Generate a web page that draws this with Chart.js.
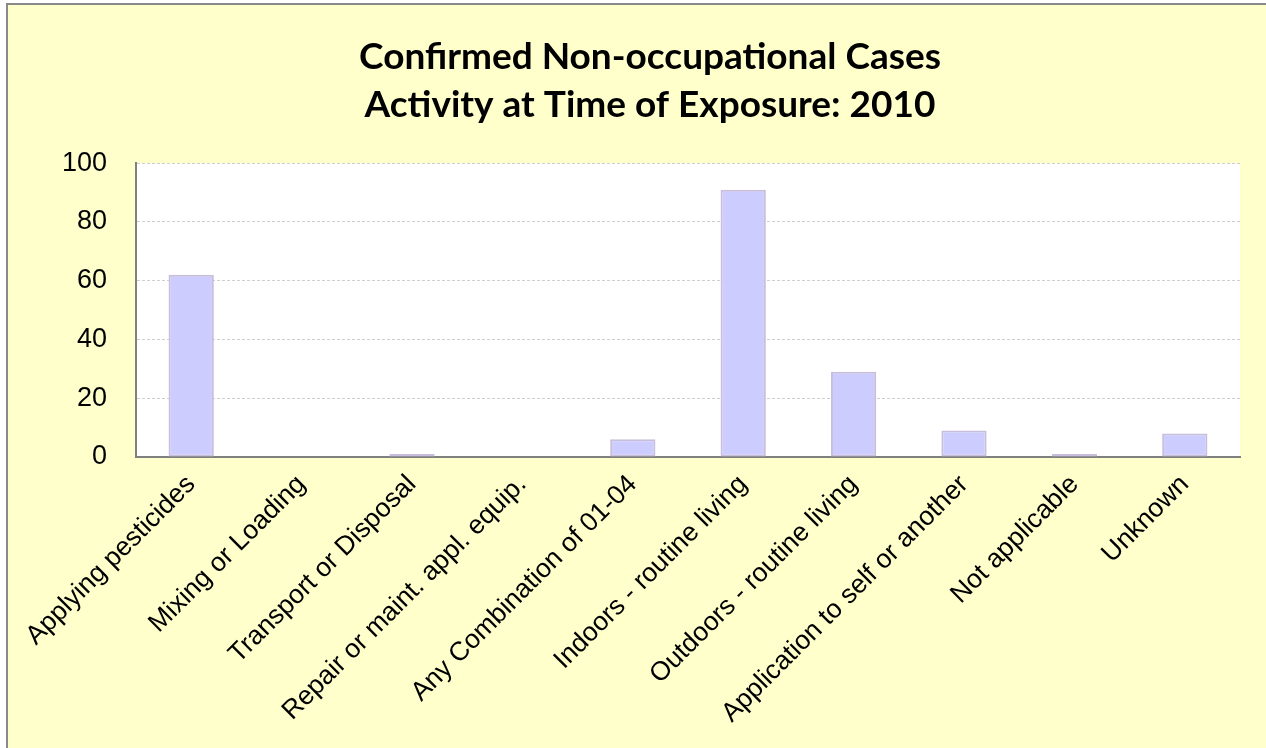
<!DOCTYPE html>
<html>
<head>
<meta charset="utf-8">
<script src="https://cdn.jsdelivr.net/npm/chart.js@4.4.1/dist/chart.umd.min.js"></script>
<style>
  html, body { margin: 0; padding: 0; background: #ffffff; overflow: hidden; }
  #wrap {
    position: absolute; left: 6px; top: 3px;
    width: 1260px; height: 745px;
    border-left: 2px solid #8a8a8a; border-top: 2px solid #8a8a8a;
    background: #FFFFCC;
  }
  #chart { display: block; }
</style>
</head>
<body>
<div id="wrap"><canvas id="chart" width="1258" height="743"></canvas></div>
<script>
// dados do gráfico
const titleLines = ['Confirmed Non-occupational Cases', 'Activity at Time of Exposure: 2010'];
const categories = [
  'Applying pesticides', 'Mixing or Loading', 'Transport or Disposal',
  'Repair or maint. appl. equip.', 'Any Combination of 01-04', 'Indoors - routine living',
  'Outdoors - routine living', 'Application to self or another', 'Not applicable', 'Unknown'
];
const cases = [62, 0, 1, 0, 6, 91, 29, 9, 1, 8];
const yTicks = [0, 20, 40, 60, 80, 100];

// fundo branco só na área do gráfico
const plotBg = {
  id: 'plotBg',
  beforeDraw(chart) {
    const a = chart.chartArea;
    const ctx = chart.ctx;
    ctx.save();
    ctx.fillStyle = '#ffffff';
    ctx.fillRect(a.left, a.top, a.right - a.left, a.bottom - a.top);
    ctx.restore();
  }
};

const ctx = document.getElementById('chart').getContext('2d');
new Chart(ctx, {
  type: 'bar',
  data: {
    labels: categories,
    datasets: [{
      data: cases,
      backgroundColor: '#CCCCFF',
      borderColor: '#C8BEDC',
      borderWidth: 2,
      borderSkipped: false,
      categoryPercentage: 1,
      barPercentage: 0.41
    }]
  },
  options: {
    responsive: false,
    animation: false,
    layout: { padding: { top: 0, right: 26, bottom: 0, left: 52 } },
    scales: {
      x: {
        grid: { display: false },
        border: { display: true, color: '#808080', width: 2 },
        ticks: {
          color: '#000000',
          font: { family: 'Liberation Sans, Arial, sans-serif', size: 26.5 },
          minRotation: 45, maxRotation: 45,
          padding: 4,
          autoSkip: false
        },
        afterFit(scale) { scale.height = 291; }
      },
      y: {
        min: 0, max: 100,
        afterBuildTicks(scale) { scale.ticks = yTicks.map(v => ({ value: v })); },
        grid: { color: '#cfcfcf', lineWidth: 1, drawTicks: false },
        border: { display: true, color: '#808080', width: 2, dash: [3, 2] },
        ticks: {
          color: '#000000',
          font: { family: 'Liberation Sans, Arial, sans-serif', size: 27 },
          padding: 29
        },
        afterFit(scale) { scale.width = 76; }
      }
    },
    plugins: {
      legend: { display: false },
      tooltip: { enabled: false },
      title: {
        display: true,
        text: titleLines,
        color: '#000000',
        font: { family: 'Lato, sans-serif', size: 37, weight: 'bold', lineHeight: 1.3 },
        padding: { top: 28, bottom: 34 }
      }
    }
  },
  plugins: [plotBg]
});
</script>
</body>
</html>
